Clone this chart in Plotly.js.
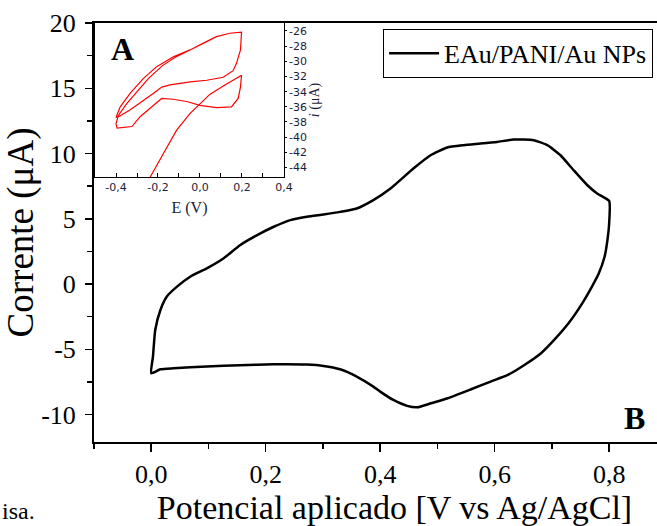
<!DOCTYPE html>
<html>
<head>
<meta charset="utf-8">
<script src="https://cdn.plot.ly/plotly-3.0.1.min.js"></script>
<style>
html, body { margin: 0; padding: 0; overflow: hidden; background: #ffffff; }
#chart { width: 695px; height: 526px; }
</style>
</head>
<body>
<div id="chart"></div>
<script>
// Main cyclic voltammogram (B): potential (V vs Ag/AgCl) and current (µA), in scan order
const potential = [
  0.000, 0.003, 0.007, 0.016, 0.027, 0.045, 0.068, 0.097, 0.126, 0.155,
  0.185, 0.214, 0.243, 0.272, 0.301, 0.330, 0.359, 0.388, 0.418, 0.458,
  0.488, 0.517, 0.546, 0.575, 0.604, 0.633, 0.668, 0.692, 0.715, 0.738,
  0.762, 0.779, 0.800, 0.800, 0.797, 0.792, 0.782, 0.770, 0.753, 0.729,
  0.704, 0.681, 0.652, 0.623, 0.593, 0.559, 0.518, 0.489, 0.465, 0.447,
  0.423, 0.400, 0.388, 0.359, 0.330, 0.301, 0.272, 0.214, 0.155, 0.097,
  0.039, 0.016, 0.000
];
const current = [
  -6.83, -5.56, -3.52, -1.99, -0.97, -0.20, 0.56, 1.20, 1.96, 2.98,
   3.75, 4.39, 4.90, 5.15, 5.33, 5.53, 5.79, 6.43, 7.32, 8.85,
   9.87, 10.46, 10.64, 10.76, 10.89, 11.07, 11.02, 10.64, 9.87, 8.72,
   7.57, 6.94, 6.37, 4.64, 3.37, 2.09, 0.82, -0.20, -1.48, -3.01,
  -4.28, -5.30, -6.20, -6.96, -7.47, -8.06, -8.75, -9.13, -9.44, -9.33,
  -8.88, -8.24, -7.86, -7.09, -6.53, -6.27, -6.17, -6.15, -6.22, -6.32,
  -6.45, -6.53, -6.83
];
const seriesName = 'EAu/PANI/Au NPs';

// Inset voltammogram (A): E (V) and i (µA), in scan order
const insetE = [
  -0.245, -0.237, -0.174, -0.111, -0.047, 0.000, 0.047, 0.111, 0.198,
   0.193, 0.182, 0.150, 0.079, 0.000, -0.063, -0.127, -0.182, -0.221, -0.285, -0.324, -0.395, -0.400,
  -0.388, -0.348, -0.301, -0.245, -0.180, -0.120, -0.047, 0.016, 0.079, 0.142, 0.198,
   0.193, 0.174, 0.158, 0.111, 0.032, -0.047, -0.142, -0.182, -0.221, -0.269, -0.332, -0.388, -0.400,
  -0.380, -0.332, -0.269, -0.206, -0.127, -0.047, 0.016, 0.079, 0.142, 0.198
];
const insetI = [
  -45.70, -45.25, -42.16, -39.08, -36.87, -35.55, -34.36, -33.27, -31.85,
  -33.40, -34.90, -36.00, -36.10, -35.80, -35.30, -35.00, -34.90, -35.80, -37.30, -38.60, -38.80, -38.20,
  -37.10, -35.55, -34.00, -32.25, -30.60, -29.50, -28.50, -27.60, -26.75, -26.30, -26.17,
  -28.50, -30.27, -31.24, -32.10, -32.50, -32.70, -33.10, -33.40, -34.20, -35.10, -36.40, -37.30, -37.40,
  -36.00, -34.20, -32.25, -30.70, -29.40, -28.50, -27.60, -26.75, -26.30, -26.17
];

// Tick values / labels
const xTickVals = [0, 0.2, 0.4, 0.6, 0.8];
const yTickVals = [-10, -5, 0, 5, 10, 15, 20];
const yTickText = yTickVals.map(v => String(v));
const insetXTicks = [-0.4, -0.2, 0, 0.2, 0.4];
const insetXText = insetXTicks.map(v => v.toFixed(1).replace('.', ','));
const insetYTicks = [-26, -28, -30, -32, -34, -36, -38, -40, -42, -44];
const insetYText = insetYTicks.map(v => String(v));

const serif = 'Liberation Serif, Times New Roman, serif';

const traces = [
  {
    x: potential, y: current, type: 'scatter', mode: 'lines',
    name: seriesName, xaxis: 'x', yaxis: 'y',
    line: { color: '#000000', width: 2.5, shape: 'spline', smoothing: 0.5 }
  },
  {
    x: insetE, y: insetI, type: 'scatter', mode: 'lines',
    name: 'inset', showlegend: false, xaxis: 'x2', yaxis: 'y2',
    line: { color: '#ff0000', width: 1.2 }
  }
];

const layout = {
  width: 695, height: 526,
  margin: { l: 94, r: 0, t: 23, b: 84 },
  paper_bgcolor: '#ffffff', plot_bgcolor: 'rgba(0,0,0,0)',
  separators: ',.',
  font: { family: serif, color: '#000000' },
  showlegend: true,
  legend: {
    x: 0.481, y: 0.986, xanchor: 'left', yanchor: 'top',
    bordercolor: '#000000', borderwidth: 1, bgcolor: '#ffffff',
    font: { family: serif, size: 26, color: '#000000' },
    itemwidth: 50
  },
  xaxis: {
    domain: [0, 1], range: [-0.1, 0.95],
    tickmode: 'array', tickvals: xTickVals, tickformat: '.1f',
    ticks: 'outside', ticklen: 8, tickwidth: 1.5, tickcolor: '#000000',
    minor: { tickmode: 'linear', tick0: 0, dtick: 0.1, ticks: 'outside', ticklen: 5, tickwidth: 1.5, tickcolor: '#000000' },
    showline: true, linewidth: 2, linecolor: '#000000', mirror: true,
    showgrid: false, zeroline: false,
    tickfont: { family: serif, size: 26, color: '#000000' },
    title: { text: 'Potencial aplicado [V vs Ag/AgCl]', font: { family: serif, size: 34, color: '#000000' }, standoff: 7 }
  },
  yaxis: {
    domain: [0, 1], range: [-12.1, 20],
    tickmode: 'array', tickvals: yTickVals, ticktext: yTickText,
    ticks: 'outside', ticklen: 7, tickwidth: 1.5, tickcolor: '#000000',
    ticklabelstandoff: 4,
    minor: { tickmode: 'linear', tick0: 0, dtick: 2.5, ticks: 'outside', ticklen: 5, tickwidth: 1.5, tickcolor: '#000000' },
    showline: true, linewidth: 2, linecolor: '#000000', mirror: true,
    showgrid: false, zeroline: false,
    tickfont: { family: serif, size: 26, color: '#000000' },
    title: { text: 'Corrente (μA)', font: { family: serif, size: 37, color: '#000000' }, standoff: 0 }
  },
  xaxis2: {
    domain: [0.0017, 0.316], anchor: 'y2', range: [-0.5, 0.4],
    tickmode: 'array', tickvals: insetXTicks, ticktext: insetXText,
    ticks: 'inside', ticklen: 4, tickwidth: 1, tickcolor: '#000000',
    minor: { tickmode: 'linear', tick0: 0, dtick: 0.1, ticks: 'inside', ticklen: 4, tickwidth: 1, tickcolor: '#000000' },
    showline: true, linewidth: 1, linecolor: '#000000', mirror: true,
    showgrid: false, zeroline: false,
    tickfont: { family: 'DejaVu Sans, sans-serif', size: 11, color: '#1c1c3a' },
    title: { text: 'E (V)', font: { family: serif, size: 16, color: '#1c1c3a' }, standoff: 8 }
  },
  yaxis2: {
    domain: [0.6325, 1], anchor: 'x2', side: 'right', range: [-45.25, -24.95],
    tickmode: 'array', tickvals: insetYTicks, ticktext: insetYText,
    ticks: 'outside', ticklen: 2, tickwidth: 1, tickcolor: '#000000',
    showline: true, linewidth: 1, linecolor: '#000000', mirror: true,
    showgrid: false, zeroline: false,
    tickfont: { family: 'DejaVu Sans, sans-serif', size: 11, color: '#1c1c3a' },
    title: { text: '<i>i</i> (μA)', font: { family: serif, size: 14, color: '#1c1c3a' }, standoff: 3 }
  },
  annotations: [
    { text: '<b>A</b>', xref: 'paper', yref: 'paper', x: 0.0466, y: 0.938,
      xanchor: 'center', yanchor: 'middle', showarrow: false,
      font: { family: serif, size: 32, color: '#000000' } },
    { text: '<b>B</b>', xref: 'paper', yref: 'paper', x: 0.9000, y: 0.0573,
      xanchor: 'center', yanchor: 'middle', showarrow: false,
      font: { family: serif, size: 32, color: '#000000' } },
    { text: 'isa.', xref: 'paper', yref: 'paper', x: -0.1564, y: -0.1647,
      xanchor: 'left', yanchor: 'middle', showarrow: false,
      font: { family: serif, size: 24, color: '#000000' } }
  ]
};

Plotly.newPlot('chart', traces, layout, { displayModeBar: false, staticPlot: true });
</script>
</body>
</html>
